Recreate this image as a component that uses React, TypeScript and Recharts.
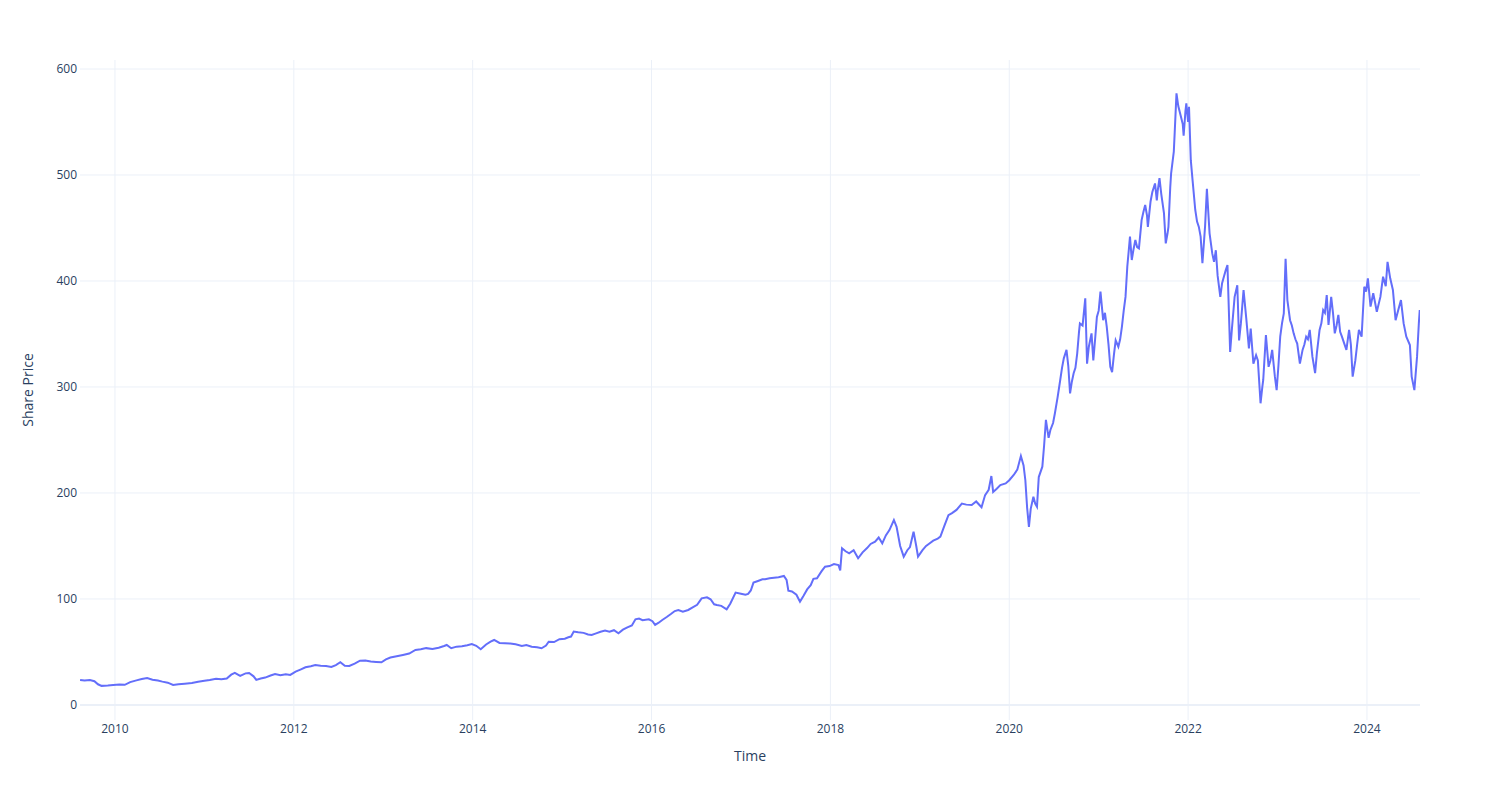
import { LineChart, Line, XAxis, YAxis, CartesianGrid, ReferenceLine, Label } from 'recharts';

// decimal years
const dates = [
  2009.61, 2009.66, 2009.72, 2009.77, 2009.81, 2009.85, 2009.92, 2009.98, 2010.05, 2010.11,
  2010.17, 2010.24, 2010.30, 2010.36, 2010.42, 2010.48, 2010.53, 2010.59, 2010.65, 2010.71,
  2010.78, 2010.86, 2010.93, 2011.00, 2011.06, 2011.13, 2011.19, 2011.25, 2011.30, 2011.34,
  2011.40, 2011.46, 2011.50, 2011.55, 2011.58, 2011.63, 2011.68, 2011.74, 2011.79, 2011.85,
  2011.91, 2011.96, 2012.02, 2012.08, 2012.13, 2012.19, 2012.24, 2012.30, 2012.36, 2012.42,
  2012.47, 2012.52, 2012.57, 2012.62, 2012.68, 2012.74, 2012.80, 2012.86, 2012.92, 2012.98,
  2013.03, 2013.08, 2013.15, 2013.22, 2013.29, 2013.36, 2013.42, 2013.48, 2013.55, 2013.62,
  2013.68, 2013.71, 2013.76, 2013.82, 2013.88, 2013.94, 2013.99, 2014.04, 2014.09, 2014.15,
  2014.20, 2014.24, 2014.30, 2014.36, 2014.42, 2014.48, 2014.55, 2014.60, 2014.66, 2014.72,
  2014.77, 2014.82, 2014.85, 2014.91, 2014.97, 2015.03, 2015.07, 2015.10, 2015.13, 2015.18,
  2015.24, 2015.29, 2015.33, 2015.38, 2015.43, 2015.48, 2015.53, 2015.58, 2015.63, 2015.68,
  2015.73, 2015.78, 2015.82, 2015.86, 2015.90, 2015.97, 2016.01, 2016.04, 2016.08, 2016.12,
  2016.17, 2016.22, 2016.26, 2016.30, 2016.35, 2016.41, 2016.46, 2016.51, 2016.56, 2016.62,
  2016.66, 2016.70, 2016.73, 2016.78, 2016.84, 2016.88, 2016.94, 2017.00, 2017.05, 2017.08,
  2017.11, 2017.14, 2017.19, 2017.24, 2017.27, 2017.32, 2017.37, 2017.42, 2017.48, 2017.51,
  2017.53, 2017.57, 2017.62, 2017.66, 2017.70, 2017.74, 2017.78, 2017.81, 2017.85, 2017.90,
  2017.94, 2017.99, 2018.04, 2018.09, 2018.11, 2018.13, 2018.17, 2018.21, 2018.26, 2018.31,
  2018.36, 2018.41, 2018.45, 2018.50, 2018.54, 2018.58, 2018.62, 2018.66, 2018.71, 2018.74,
  2018.78, 2018.82, 2018.86, 2018.89, 2018.93, 2018.96, 2018.98, 2019.03, 2019.07, 2019.10,
  2019.15, 2019.20, 2019.23, 2019.27, 2019.32, 2019.36, 2019.41, 2019.47, 2019.52, 2019.58,
  2019.63, 2019.69, 2019.73, 2019.77, 2019.80, 2019.82, 2019.86, 2019.90, 2019.96, 2020.00,
  2020.05, 2020.09, 2020.13, 2020.16, 2020.18, 2020.20, 2020.22, 2020.24, 2020.27, 2020.29,
  2020.31, 2020.33, 2020.37, 2020.39, 2020.41, 2020.44, 2020.46, 2020.49, 2020.51, 2020.54,
  2020.57, 2020.59, 2020.61, 2020.64, 2020.66, 2020.68, 2020.70, 2020.72, 2020.74, 2020.76,
  2020.78, 2020.79, 2020.82, 2020.85, 2020.87, 2020.89, 2020.92, 2020.94, 2020.96, 2020.98,
  2021.00, 2021.02, 2021.05, 2021.07, 2021.09, 2021.11, 2021.13, 2021.15, 2021.17, 2021.19,
  2021.22, 2021.24, 2021.26, 2021.28, 2021.30, 2021.32, 2021.35, 2021.37, 2021.39, 2021.41,
  2021.43, 2021.45, 2021.48, 2021.50, 2021.52, 2021.54, 2021.55, 2021.58, 2021.60, 2021.63,
  2021.65, 2021.66, 2021.68, 2021.70, 2021.73, 2021.75, 2021.77, 2021.78, 2021.80, 2021.81,
  2021.84, 2021.85, 2021.87, 2021.89, 2021.92, 2021.94, 2021.95, 2021.97, 2021.98, 2022.00,
  2022.01, 2022.03, 2022.05, 2022.08, 2022.10, 2022.12, 2022.14, 2022.16, 2022.18, 2022.19,
  2022.21, 2022.24, 2022.27, 2022.29, 2022.31, 2022.33, 2022.36, 2022.38, 2022.40, 2022.42,
  2022.44, 2022.47, 2022.49, 2022.52, 2022.55, 2022.57, 2022.59, 2022.62, 2022.65, 2022.68,
  2022.70, 2022.73, 2022.76, 2022.78, 2022.81, 2022.83, 2022.84, 2022.87, 2022.90, 2022.92,
  2022.94, 2022.97, 2022.99, 2023.01, 2023.03, 2023.05, 2023.07, 2023.09, 2023.11, 2023.14,
  2023.16, 2023.18, 2023.20, 2023.22, 2023.25, 2023.28, 2023.30, 2023.32, 2023.34, 2023.36,
  2023.39, 2023.42, 2023.44, 2023.47, 2023.49, 2023.51, 2023.53, 2023.55, 2023.57, 2023.60,
  2023.62, 2023.64, 2023.66, 2023.68, 2023.70, 2023.72, 2023.75, 2023.77, 2023.80, 2023.82,
  2023.84, 2023.87, 2023.89, 2023.91, 2023.94, 2023.97, 2023.99, 2024.01, 2024.04, 2024.07,
  2024.09, 2024.11, 2024.15, 2024.18, 2024.21, 2024.23, 2024.26, 2024.29, 2024.32, 2024.35,
  2024.38, 2024.41, 2024.44, 2024.48, 2024.50, 2024.53, 2024.56, 2024.58, 2024.59,
];

const prices = [
  23.5, 23.0, 23.6, 22.4, 19.5, 18.0, 18.3, 18.8, 19.4, 19.0,
  21.5, 23.2, 24.5, 25.4, 23.8, 23.0, 22.0, 21.0, 18.9, 19.6,
  20.1, 20.8, 21.9, 22.8, 23.6, 24.8, 24.2, 25.0, 28.6, 30.2,
  27.4, 29.8, 30.1, 27.0, 23.6, 25.0, 25.8, 27.8, 29.2, 28.0,
  29.0, 28.3, 31.4, 33.6, 35.5, 36.6, 37.7, 37.0, 36.8, 35.8,
  37.6, 40.3, 37.0, 36.8, 39.0, 41.8, 42.0, 41.0, 40.6, 40.3,
  43.0, 44.8, 46.0, 47.2, 48.5, 51.9, 52.5, 53.6, 52.8, 54.0,
  55.6, 56.6, 53.5, 55.0, 55.3, 56.4, 57.5, 55.8, 52.5, 57.0,
  59.8, 61.3, 58.5, 58.2, 58.0, 57.2, 55.7, 56.5, 55.0, 54.4,
  53.5, 56.0, 59.7, 59.3, 62.0, 62.5, 63.9, 64.5, 69.2, 68.5,
  68.0, 66.5, 66.0, 67.5, 69.0, 70.1, 69.0, 70.5, 67.6, 71.0,
  73.2, 75.0, 80.8, 81.5, 80.0, 80.8, 79.0, 75.5, 77.6, 80.2,
  83.0, 86.0, 88.6, 89.6, 88.0, 89.6, 92.0, 94.5, 100.6, 101.5,
  99.7, 95.0, 94.3, 93.5, 90.2, 95.5, 106.0, 105.0, 104.0, 104.7,
  108.0, 115.4, 117.0, 118.5, 118.6, 119.5, 120.0, 120.5, 121.7, 118.0,
  107.8, 107.0, 104.0, 97.5, 103.0, 109.0, 113.0, 119.0, 119.5, 126.0,
  130.5, 131.0, 133.0, 132.0, 127.0, 147.8, 145.0, 143.0, 146.0, 138.4,
  144.0, 148.0, 151.9, 154.0, 158.0, 152.5, 160.0, 165.0, 174.5, 168.0,
  150.0, 139.9, 146.0, 149.0, 163.5, 150.0, 140.0, 146.0, 150.0, 151.9,
  155.0, 157.0, 158.8, 168.0, 179.0, 181.0, 184.0, 190.0, 189.0, 188.7,
  192.0, 186.5, 198.0, 203.0, 216.0, 201.0, 204.0, 207.5, 209.0, 212.0,
  217.0, 222.0, 234.9, 226.0, 212.0, 186.0, 168.0, 185.0, 196.5, 190.0,
  187.0, 215.0, 224.8, 245.0, 268.9, 252.0, 259.4, 266.0, 275.0, 290.0,
  306.6, 318.0, 327.0, 335.0, 320.0, 294.0, 305.0, 313.0, 318.0, 331.8,
  352.0, 360.0, 358.0, 383.7, 322.0, 338.0, 350.6, 325.0, 345.0, 366.0,
  372.0, 390.0, 363.0, 370.0, 357.0, 340.0, 319.0, 314.0, 330.0, 344.0,
  338.0, 345.0, 357.0, 372.0, 385.0, 413.5, 441.8, 419.8, 430.0, 438.7,
  432.0, 430.8, 457.5, 465.0, 471.7, 462.0, 451.0, 475.0, 484.0, 492.0,
  476.0, 485.0, 497.0, 482.0, 464.0, 435.5, 445.0, 451.0, 488.0, 501.6,
  522.0, 540.0, 577.0, 565.0, 555.0, 548.0, 537.0, 560.0, 567.6, 550.0,
  564.4, 514.0, 495.0, 467.0, 456.0, 451.0, 441.8, 416.7, 440.0, 452.0,
  487.0, 445.0, 426.0, 418.0, 429.0, 405.0, 385.0, 398.0, 404.0, 410.0,
  415.0, 333.0, 355.0, 385.0, 396.0, 344.0, 360.0, 391.5, 365.0, 336.5,
  355.0, 322.0, 330.0, 325.0, 284.6, 300.0, 306.6, 349.0, 319.0, 325.0,
  335.0, 310.0, 297.0, 320.0, 347.5, 360.0, 369.5, 421.0, 382.0, 363.0,
  358.0, 350.6, 345.0, 341.0, 322.0, 335.0, 340.0, 347.5, 345.0, 353.8,
  328.6, 313.0, 332.0, 353.8, 360.0, 372.6, 370.0, 386.8, 358.5, 385.0,
  370.0, 350.6, 358.0, 368.0, 352.0, 347.5, 340.0, 335.0, 353.8, 340.0,
  309.7, 325.0, 340.0, 353.8, 347.5, 394.6, 390.0, 402.5, 375.8, 388.4,
  380.0, 371.0, 385.0, 404.0, 395.0, 418.0, 402.5, 391.5, 363.0, 372.6,
  382.0, 360.0, 347.5, 339.6, 309.7, 297.0, 328.6, 360.0, 372.6,
];

const yearTicks = [2010, 2012, 2014, 2016, 2018, 2020, 2022, 2024];
const priceTicks = [0, 100, 200, 300, 400, 500, 600];

const data = dates.map((t, i) => ({ t, price: prices[i] }));

const FONT = '"Open Sans", verdana, arial, sans-serif';
const INK = '#2a3f5f';
const GRID = '#EBF0F8';

function YTitle({ viewBox }: any) {
  const x = viewBox.x + 27;
  const y = viewBox.y + viewBox.height / 2;
  return (
    <text x={x} y={y} transform={`rotate(-90 ${x} ${y})`} textAnchor="middle" dominantBaseline="central"
      fill={INK} fontSize={14} fontFamily={FONT}>
      Share Price
    </text>
  );
}

export default function App() {
  return (
    <div style={{ position: 'absolute', left: 0, top: 0, width: 1500, height: 800, background: '#fff', fontFamily: FONT }}>
      <LineChart width={1500} height={800} data={data} margin={{ top: 60, right: 80, bottom: 0, left: 0 }}>
        <CartesianGrid stroke={GRID} strokeWidth={1} horizontalValues={priceTicks} verticalValues={yearTicks} />
        <XAxis
          dataKey="t"
          type="number"
          domain={[2009.609, 2024.593]}
          allowDataOverflow
          ticks={yearTicks}
          tickFormatter={(v) => String(v)}
          axisLine={false}
          tickLine={false}
          tickSize={0}
          tickMargin={4}
          height={80}
          tick={{ fontSize: 12, fill: INK, fontFamily: FONT }}
        >
          <Label value="Time" position="insideBottom" offset={39} fill={INK} fontSize={14} fontFamily={FONT} />
        </XAxis>
        <YAxis
          type="number"
          domain={[-14.2, 608.5]}
          allowDataOverflow
          ticks={priceTicks}
          axisLine={false}
          tickLine={false}
          tickSize={0}
          tickMargin={3}
          width={80}
          tick={{ fontSize: 12, fill: INK, fontFamily: FONT }}
          label={<YTitle />}
        />
        <ReferenceLine y={0} stroke={GRID} strokeWidth={2} />
        <Line
          type="linear"
          dataKey="price"
          stroke="#636efa"
          strokeWidth={2}
          dot={false}
          isAnimationActive={false}
        />
      </LineChart>
    </div>
  );
}
